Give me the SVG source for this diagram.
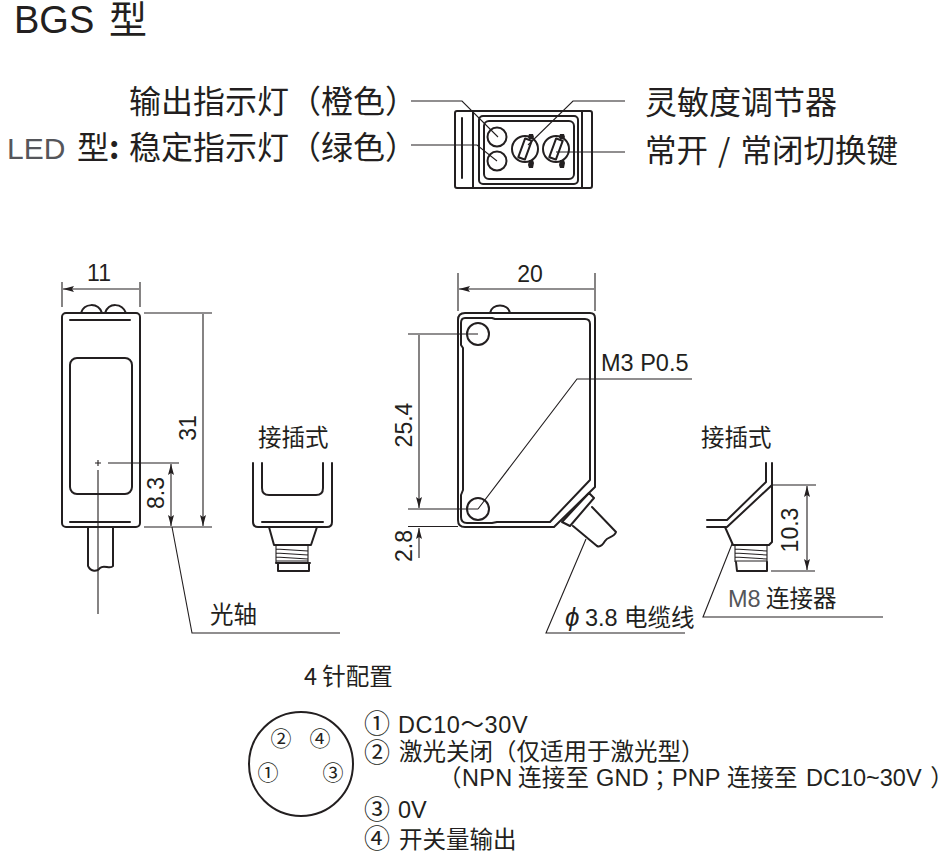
<svg xmlns="http://www.w3.org/2000/svg" width="944" height="858" viewBox="0 0 944 858">
<style>
text{font-family:"Liberation Sans","Noto Sans CJK SC",sans-serif;fill:#231f20}
.c{font-family:"Noto Sans CJK SC","Liberation Sans",sans-serif}
.g{fill:#55565a}
.h{font-size:32px}
.l{font-size:23.5px}
.n{font-size:23px;text-anchor:middle}
.p{font-size:21px;text-anchor:middle}
.q{font-size:26px;text-anchor:middle}
.w{font-feature-settings:"palt"}
.s{fill:none;stroke:#231f20;stroke-width:2;stroke-linejoin:round;stroke-linecap:round}
.t{fill:none;stroke:#231f20;stroke-width:1.100}
.d{fill:none;stroke:#231f20;stroke-width:1.100;marker-end:url(#a);marker-start:url(#a)}
.e{fill:none;stroke:#231f20;stroke-width:1.100;marker-end:url(#a)}
</style>
<defs><marker id="a" markerUnits="userSpaceOnUse" markerWidth="12" markerHeight="7" refX="11" refY="3.500" orient="auto-start-reverse"><path d="M0 0.500L11 3.500L0 6.500L2 3.500Z" fill="#231f20"/></marker></defs>
<rect width="944" height="858" fill="#fff"/>
<g id="title"><text x="14" y="33" style="font-size:38px">BGS<tspan class="c" x="109" y="33">型</tspan></text></g>
<g id="labels-top">
<text class="c h" x="129" y="113">输出指示灯（橙色）</text>
<text class="g" x="7" y="159" style="font-size:30px">LED</text>
<text class="c h" x="77" y="159">型<tspan style="font-weight:700">:</tspan></text>
<text class="c h" x="129" y="159">稳定指示灯（绿色）</text>
<text class="c h" x="645" y="114">灵敏度调节器</text>
<text class="c h" x="645" y="162" style="word-spacing:3px;font-size:31.500px">常开 / 常闭切换键</text>
</g>
<g id="top-view">
<rect class="s" x="455" y="111" width="137" height="77" rx="2"/>
<path class="s" d="M473 111V188M582 111V188M462 118V178"/>
<rect class="s" x="479" y="116" width="99" height="68" rx="4"/>
<rect class="s" x="484" y="121" width="90" height="58" rx="5"/>
<circle class="s" cx="497" cy="137" r="9.500"/>
<circle class="s" cx="497" cy="161" r="9.500"/>
<circle class="s" cx="525" cy="149" r="13"/>
<circle class="s" cx="556" cy="149" r="13"/>
<rect class="s" x="521.500" y="139" width="7" height="20" transform="rotate(20 525 149)"/>
<rect class="s" x="552.500" y="139" width="7" height="20" transform="rotate(20 556 149)"/>
<path d="M529 134h4l1 3l-1 2h-4l-1-2zM529 160h4l1 3l-1 5h-4l-1-3zM560 134h4l1 3l-1 2h-4l-1-2zM560 160h4l1 3l-1 5h-4l-1-3z" fill="#231f20"/>
</g>
<g id="front-view">
<path class="s" d="M81 313C84 303 98 302 102 313M105 313C109 302 122 303 126 313"/>
<rect class="s" x="62" y="313" width="78" height="214" rx="4"/>
<rect class="s" x="70" y="358" width="62" height="136" rx="7"/>
<path class="s" d="M70 320H130M70 522H130M88 527V566M113 527V566M88 566C91 572 97 572 100 568C104 564 110 570 113 566"/>
<path class="t" d="M95 463H101M98 460V466"/>
</g>
<g id="front-plug">
<text class="c l" x="258" y="446">接插式</text>
<path class="s" d="M253 463V522Q253 527 258 527H327Q332 527 332 522V463M262 463V488Q262 495 269 495H316Q323 495 323 488V463M262 522H323"/>
<path class="s" d="M269 527L274 545H311L317 527M276 545H308"/>
<path class="t" d="M276 545V563M308 545V563M276 549L308 551M276 553L308 555M276 557L308 559M276 561H308"/>
<path class="s" d="M278 563V571H309V563M276 563H310"/>
</g>
<g id="side-view">
<path class="s" d="M490 313C492 303 508 303 510 313"/>
<path class="s" d="M465 313H590Q595 313 595 318V487L554 527H465Q458 527 458 520V320Q458 313 465 313Z"/>
<path class="s" d="M465 318H492L495 319H585Q590 319 590 324V480L550 522H497L492 523H467Q461 523 461 517V495L463 490V348L461 345V323Q461 318 465 318Z"/>
<circle class="s" cx="478" cy="334" r="11"/>
<circle class="s" cx="478" cy="509" r="11"/>
<path class="s" d="M562 522L589 493L594 498L570 526ZM592 507L616 532C614 538 608 536 605 541C602 546 599 547 597 546L573 526"/>
</g>
<g id="side-plug">
<text class="c l" x="701" y="446">接插式</text>
<path class="s" d="M766 463V482L727 520H707M772 463V485L727 527H707M772 485V542L769 545H733L725 527"/>
<path class="t" d="M735 545V562M767 545V562M735 549L767 551M735 553L767 555M735 557L767 559M735 561H767"/>
<path class="s" d="M736 562L737 571H767V562"/>
</g>
<g id="pin-diagram">
<text class="c" x="304" y="685" style="font-size:23.500px">4 针配置</text>
<circle class="s" cx="301" cy="764" r="52"/>
<text class="c p" x="281" y="746">②</text>
<text class="c p" x="320" y="746">④</text>
<text class="c p" x="268" y="780">①</text>
<text class="c p" x="333" y="780">③</text>
<text class="c q" x="377" y="733">①</text>
<text class="l" x="398" y="733" style="letter-spacing:.6px">DC10～30V</text>
<text class="c q" x="377" y="762">②</text>
<text class="c l" x="399" y="760">激光关闭（仅适用于激光型）</text>
<text class="c l w" x="449" y="786">（</text>
<text class="l" y="786" style="letter-spacing:.3px"><tspan x="462">NPN</tspan><tspan class="c" x="518">连接至</tspan><tspan x="596">GND</tspan></text>
<text class="c l w" x="654" y="786">；</text>
<text class="l" y="786"><tspan x="672">PNP</tspan><tspan class="c" x="727">连接至</tspan><tspan x="806">DC10~30V</tspan></text>
<text class="c l w" x="931" y="786">）</text>
<text class="c q" x="377" y="819">③</text>
<text class="l" x="398" y="818">0V</text>
<text class="c q" x="377" y="848">④</text>
<text class="c l" x="399" y="848">开关量输出</text>
</g>
<g id="connectors">
<path class="t" d="M411 101H462L498 137M411 145H477L497 161M625 101H573L528 145M625 152H556"/>
<path class="t" d="M62 282V307M140 282V307M144 313H212M144 527H212M108 463H179M98 470V614M172 527L192 633H340"/>
<path class="d" d="M63 289H139M203 314V526"/>
<path class="d" d="M171 464V526"/>
<path class="t" d="M458 273V311M595 273V311M408 334H478M408 509H478M408 526.500H458M692 379H577L478 509M586 539L546 633H685"/>
<path class="d" d="M459 289H594M419 335V508"/>
<path class="e" d="M419 558V528"/>
<path class="t" d="M772 485H816M771 571H815M732 544L703 617H883"/>
<path class="d" d="M807 486V570"/>
</g>
<g id="dimensions">
<text class="n" x="99" y="281">11</text>
<text class="n" transform="translate(196 428) rotate(-90)">31</text>
<text class="n" transform="translate(164 493) rotate(-90)">8.3</text>
<text class="c l" x="210" y="623">光轴</text>
<text class="n" x="530" y="282">20</text>
<text class="n" transform="translate(412 425) rotate(-90)">25.4</text>
<text class="n" transform="translate(412 546) rotate(-90)">2.8</text>
<text class="l" x="601" y="371">M3 P0.5</text>
<text x="565" y="626" style="font-size:26px;font-style:italic">ϕ</text>
<text class="l" x="585" y="626">3.8</text>
<text class="c l" x="624" y="626">电缆线</text>
<text class="n" transform="translate(798 530) rotate(-90)">10.3</text>
<text class="l g" x="728" y="607">M8</text>
<text class="c l" x="766" y="607">连接器</text>
</g>
</svg>
